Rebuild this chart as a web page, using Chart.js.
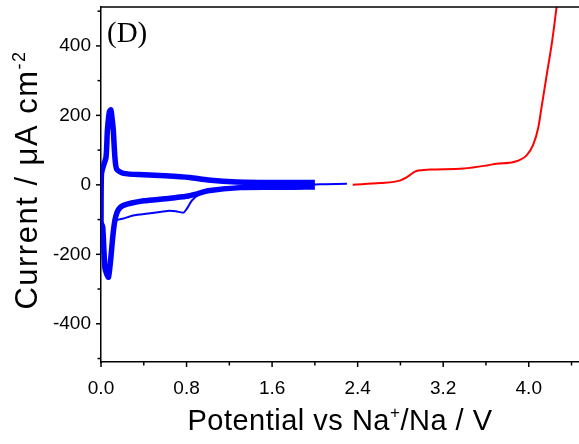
<!DOCTYPE html>
<html>
<head>
<meta charset="utf-8">
<script src="https://cdn.jsdelivr.net/npm/chart.js@4.4.1/dist/chart.umd.min.js"></script>
<style>html,body{margin:0;padding:0;background:#fff}</style>
</head>
<body>
<canvas id="grafico" width="579" height="444"></canvas>
<script>
// CV loop (cycles 2..n), anodic branch 0 -> 2.0 V
const cvAnodicV = [0.0, 0.004, 0.02, 0.047, 0.06, 0.078, 0.092, 0.104, 0.115, 0.13, 0.147, 0.21, 0.4, 0.6, 0.83, 1.0, 1.27, 1.5, 1.8, 2.0];
const cvAnodicI = [-110, 30, 52, 80, 157, 210, 216, 190, 157, 80, 45, 33, 29, 26, 21, 14, 8, 7, 7, 7];
// CV loop, cathodic branch 2.0 -> 0 V
const cvCathodicV = [2.0, 1.8, 1.6, 1.3, 1.0, 0.9, 0.8, 0.6, 0.4, 0.21, 0.16, 0.13, 0.11, 0.09, 0.07, 0.055, 0.037, 0.016, 0.004, 0.0];
const cvCathodicI = [-6, -7, -7, -8, -17, -26, -33, -40, -46, -59, -73, -102, -150, -217, -266, -258, -240, -121, -112, -110];
// first cathodic scan from OCV (thin line)
const firstV = [2.3, 2.1, 2.0, 1.6, 1.2, 1.0, 0.93, 0.85, 0.8, 0.77, 0.7, 0.62, 0.46, 0.3, 0.21, 0.147, 0.13];
const firstI = [3, 2, 1, -2, -7, -15, -25, -45, -70, -80, -76, -75, -82, -88, -97, -102, -112];
// linear sweep, red
const lsvV = [2.354, 2.61, 2.8, 2.86, 2.95, 3.08, 3.39, 3.61, 3.7, 3.86, 3.98, 4.04, 4.09, 4.12, 4.17, 4.22, 4.26, 4.27];
const lsvI = [0.5, 5, 13, 22, 40, 44, 47, 56, 61, 66, 85, 114, 166, 224, 320, 416, 512, 540];

const xTicks = [0.0, 0.8, 1.6, 2.4, 3.2, 4.0];
const xMinor = [0.4, 1.2, 2.0, 2.8, 3.6, 4.4];
const yTicks = [-400, -200, 0, 200, 400];
const yMinor = [-500, -300, -100, 100, 300, 500];

const pts = (xs, ys) => xs.map((v, i) => ({ x: v, y: ys[i] }));

const SANS = '"Liberation Sans", Arial, sans-serif';
Chart.defaults.font.family = SANS;
Chart.defaults.color = '#000';

function drawParts(ctx, parts, cx, baseY, size, supSize, raise, spacing) {
    ctx.letterSpacing = spacing + 'px';
    let total = 0;
    parts.forEach(p => {
        ctx.font = (p.sup ? supSize : size) + 'px ' + SANS;
        p.w = ctx.measureText(p.t).width;
        total += p.w;
    });
    let xx = cx - total / 2;
    ctx.textAlign = 'left';
    ctx.textBaseline = 'alphabetic';
    parts.forEach(p => {
        ctx.font = (p.sup ? supSize : size) + 'px ' + SANS;
        ctx.fillText(p.t, xx, p.sup ? baseY - raise : baseY);
        xx += p.w;
    });
    ctx.letterSpacing = '0px';
}

const decor = {
    id: 'decor',
    afterDraw(chart) {
        const { ctx, chartArea: a, scales: { x, y } } = chart;
        ctx.save();
        ctx.strokeStyle = '#000';
        ctx.lineWidth = 1.5;
        const seg = (x1, y1, x2, y2) => { ctx.beginPath(); ctx.moveTo(x1, y1); ctx.lineTo(x2, y2); ctx.stroke(); };
        seg(a.left - 1, a.top, a.right, a.top);
        xTicks.forEach(v => { const p = x.getPixelForValue(v); seg(p, a.bottom, p, a.bottom + 5); });
        xMinor.forEach(v => { const p = x.getPixelForValue(v); seg(p, a.bottom, p, a.bottom + 3.5); });
        yTicks.forEach(v => { const p = y.getPixelForValue(v); seg(a.left, p, a.left - 5, p); });
        yMinor.forEach(v => { const p = y.getPixelForValue(v); seg(a.left, p, a.left - 3.5, p); });

        ctx.fillStyle = '#000';
        drawParts(ctx, [{ t: 'Potential vs Na' }, { t: '+', sup: true }, { t: '/Na / V' }], (a.left + a.right) / 2, 430, 29, 17, 12, 0.5);

        ctx.save();
        ctx.translate(37, 180);
        ctx.rotate(-Math.PI / 2);
        drawParts(ctx, [{ t: 'Current / \u03bcA cm' }, { t: '-2', sup: true }], 0, 0, 31, 18, 12, 1.5);
        ctx.restore();

        ctx.font = '29px "Liberation Serif", "Times New Roman", serif';
        ctx.textAlign = 'left';
        ctx.textBaseline = 'alphabetic';
        ctx.fillText('(D)', 107, 42);
        ctx.restore();
    }
};

new Chart(document.getElementById('grafico'), {
    type: 'line',
    data: {
        datasets: [
            { data: pts(cvAnodicV, cvAnodicI), borderColor: '#0000ff', borderWidth: 5.5, tension: 0.25 },
            { data: pts(cvCathodicV, cvCathodicI), borderColor: '#0000ff', borderWidth: 5.5, tension: 0.25 },
            { data: pts(firstV, firstI), borderColor: '#0000ff', borderWidth: 2, tension: 0.25 },
            { data: pts(lsvV, lsvI), borderColor: '#ff0000', borderWidth: 2, cubicInterpolationMode: 'monotone' }
        ]
    },
    options: {
        responsive: false,
        animation: false,
        devicePixelRatio: 1,
        layout: { padding: { top: 7, right: 0, left: 0, bottom: 0 } },
        elements: { point: { radius: 0, hoverRadius: 0 } },
        plugins: { legend: { display: false }, tooltip: { enabled: false } },
        scales: {
            x: {
                type: 'linear', min: 0, max: 4.47,
                afterBuildTicks: s => { s.ticks = xTicks.map(v => ({ value: v })); },
                afterFit: s => { s.height = 82; s.paddingLeft = 0; s.paddingRight = 0; },
                grid: { display: false, drawTicks: false },
                border: { display: true, color: '#000', width: 1.5 },
                ticks: { padding: 15, maxRotation: 0, autoSkip: false, font: { size: 19 }, callback: v => v.toFixed(1) }
            },
            y: {
                type: 'linear', min: -510, max: 512,
                afterBuildTicks: s => { s.ticks = yTicks.map(v => ({ value: v })); },
                afterFit: s => { s.width = 101; s.paddingTop = 0; s.paddingBottom = 0; },
                grid: { display: false, drawTicks: false },
                border: { display: true, color: '#000', width: 1.5 },
                ticks: { padding: 10, autoSkip: false, font: { size: 19 }, callback: v => String(v) }
            }
        }
    },
    plugins: [decor]
});
</script>
</body>
</html>
